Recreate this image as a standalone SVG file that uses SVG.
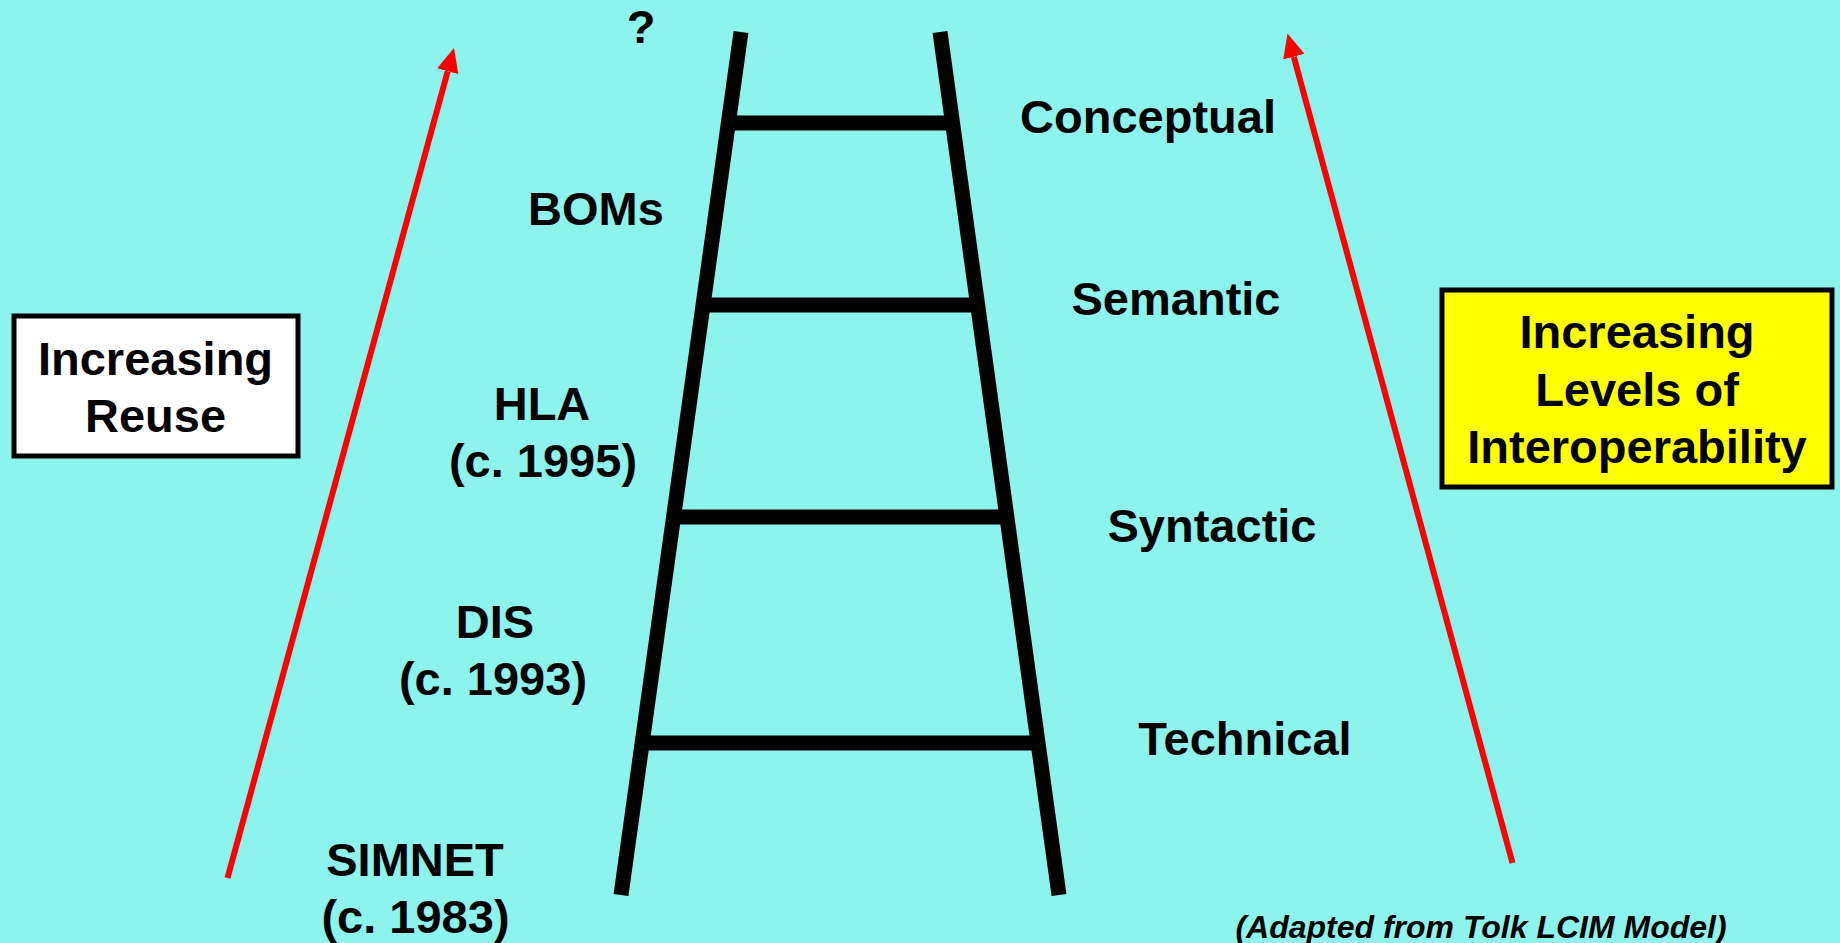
<svg xmlns="http://www.w3.org/2000/svg" width="1840" height="943" viewBox="0 0 1840 943">
  <style>
    .t { font-family: "Liberation Sans", Arial, sans-serif; font-weight: bold; font-size: 47px; fill: #000; text-anchor: middle; }
    .note { font-family: "Liberation Sans", Arial, sans-serif; font-weight: bold; font-style: italic; font-size: 32px; fill: #000; text-anchor: middle; }
    .rail { stroke: #000; stroke-width: 15; fill: none; }
    .rung { stroke: #000; stroke-width: 15; fill: none; }
    .box { stroke: #000; stroke-width: 5; }
    .arrow { stroke: #ff0000; stroke-width: 6; fill: none; marker-end: url(#head); }
  </style>
  <defs>
    <marker id="head" markerUnits="userSpaceOnUse" markerWidth="24" markerHeight="22" viewBox="0 -11 24 22" refX="0" refY="0" orient="auto">
      <path d="M0,-11 L24,0 L0,11 z" fill="#ff0000"/>
    </marker>
  </defs>
  <rect x="0" y="0" width="1840" height="943" fill="#8cf4ec"/>

  <g id="ladder">
    <line class="rail" x1="741" y1="32" x2="621" y2="895"/>
    <line class="rail" x1="940" y1="32" x2="1059" y2="895"/>
    <line class="rung" x1="730" y1="123" x2="951" y2="123"/>
    <line class="rung" x1="705" y1="305" x2="976" y2="305"/>
    <line class="rung" x1="676" y1="517" x2="1005" y2="517"/>
    <line class="rung" x1="645" y1="743" x2="1036" y2="743"/>
  </g>

  <g id="connectors">
    <line class="arrow" x1="227.5" y1="878" x2="447.7" y2="71.2"/>
    <line class="arrow" x1="1512.5" y1="863" x2="1293.8" y2="56.7"/>
  </g>

  <g id="reuse-box">
    <rect class="box" x="14" y="316" width="284" height="140" fill="#ffffff"/>
    <text class="t" x="155.5" y="375">Increasing</text>
    <text class="t" x="155.5" y="432">Reuse</text>
  </g>

  <g id="interop-box">
    <rect class="box" x="1442" y="290" width="390" height="197" fill="#ffff00"/>
    <text class="t" x="1637" y="348">Increasing</text>
    <text class="t" x="1637" y="406">Levels of</text>
    <text class="t" x="1637" y="463">Interoperability</text>
  </g>

  <g id="label-question"><text class="t" x="641" y="43">?</text></g>
  <g id="label-boms"><text class="t" x="596" y="225">BOMs</text></g>
  <g id="label-hla">
    <text class="t" x="542" y="420">HLA</text>
    <text class="t" x="543" y="477">(c. 1995)</text>
  </g>
  <g id="label-dis">
    <text class="t" x="495" y="638">DIS</text>
    <text class="t" x="493" y="695">(c. 1993)</text>
  </g>
  <g id="label-simnet">
    <text class="t" x="415" y="876">SIMNET</text>
    <text class="t" x="415.5" y="933">(c. 1983)</text>
  </g>
  <g id="label-conceptual"><text class="t" x="1148" y="133">Conceptual</text></g>
  <g id="label-semantic"><text class="t" x="1176" y="315">Semantic</text></g>
  <g id="label-syntactic"><text class="t" x="1212" y="542">Syntactic</text></g>
  <g id="label-technical"><text class="t" x="1245" y="755">Technical</text></g>
  <g id="note"><text class="note" x="1481" y="938">(Adapted from Tolk LCIM Model)</text></g>
</svg>
